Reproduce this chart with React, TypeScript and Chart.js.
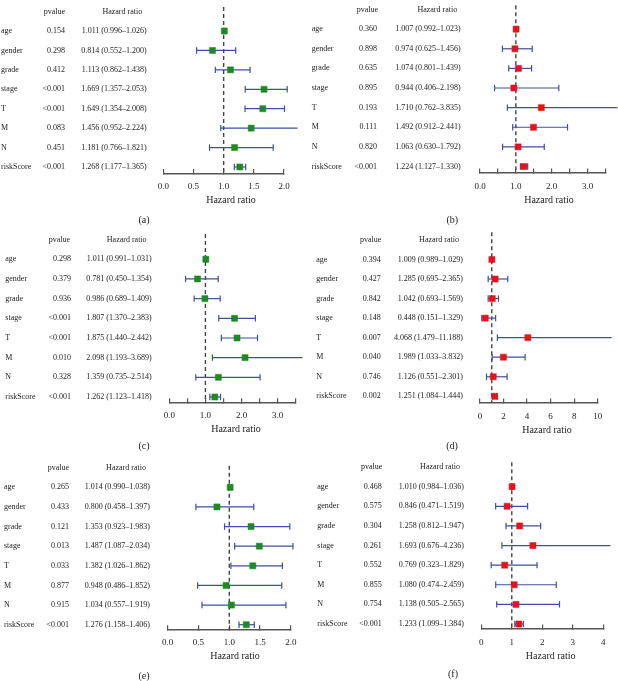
import React, { useEffect, useRef } from 'react';
import { Chart, registerables } from 'chart.js';

Chart.register(...registerables);

// ---------------- data ----------------
const variables = ['age', 'gender', 'grade', 'stage', 'T', 'M', 'N', 'riskScore'];

const pA = ['0.154', '0.298', '0.412', '<0.001', '<0.001', '0.083', '0.451', '<0.001'];
const hrA = [1.011, 0.814, 1.113, 1.669, 1.649, 1.456, 1.181, 1.268];
const loA = [0.996, 0.552, 0.862, 1.357, 1.354, 0.952, 0.766, 1.177];
const hiA = [1.026, 1.2, 1.438, 2.053, 2.008, 2.224, 1.821, 1.365];

const pB = ['0.360', '0.898', '0.635', '0.895', '0.193', '0.111', '0.820', '<0.001'];
const hrB = [1.007, 0.974, 1.074, 0.944, 1.71, 1.492, 1.063, 1.224];
const loB = [0.992, 0.625, 0.801, 0.406, 0.762, 0.912, 0.63, 1.127];
const hiB = [1.023, 1.456, 1.439, 2.198, 3.835, 2.441, 1.792, 1.33];

const pC = ['0.298', '0.379', '0.936', '<0.001', '<0.001', '0.010', '0.328', '<0.001'];
const hrC = [1.011, 0.781, 0.986, 1.807, 1.875, 2.098, 1.359, 1.262];
const loC = [0.991, 0.45, 0.689, 1.37, 1.44, 1.193, 0.735, 1.123];
const hiC = [1.031, 1.354, 1.409, 2.383, 2.442, 3.689, 2.514, 1.418];

const pD = ['0.394', '0.427', '0.842', '0.148', '0.007', '0.040', '0.746', '0.002'];
const hrD = [1.009, 1.285, 1.042, 0.448, 4.068, 1.989, 1.126, 1.251];
const loD = [0.989, 0.695, 0.693, 0.151, 1.479, 1.033, 0.551, 1.084];
const hiD = [1.029, 2.365, 1.569, 1.329, 11.188, 3.832, 2.301, 1.444];

const pE = ['0.265', '0.433', '0.121', '0.013', '0.033', '0.877', '0.915', '<0.001'];
const hrE = [1.014, 0.8, 1.353, 1.487, 1.382, 0.948, 1.034, 1.276];
const loE = [0.99, 0.458, 0.923, 1.087, 1.026, 0.486, 0.557, 1.158];
const hiE = [1.038, 1.397, 1.983, 2.034, 1.862, 1.852, 1.919, 1.406];

const pF = ['0.468', '0.575', '0.304', '0.261', '0.552', '0.855', '0.754', '<0.001'];
const hrF = [1.01, 0.846, 1.258, 1.693, 0.769, 1.08, 1.138, 1.233];
const loF = [0.984, 0.471, 0.812, 0.676, 0.323, 0.474, 0.505, 1.099];
const hiF = [1.036, 1.519, 1.947, 4.236, 1.829, 2.459, 2.565, 1.384];

const ticksHalf2 = [0, 0.5, 1, 1.5, 2];
const tickLabelsHalf2 = ['0.0', '0.5', '1.0', '1.5', '2.0'];
const ticksHalf35 = [0, 0.5, 1, 1.5, 2, 2.5, 3, 3.5];
const tickLabelsHalf35 = ['0.0', '', '1.0', '', '2.0', '', '3.0', ''];
const ticksTen = [0, 2, 4, 6, 8, 10];
const tickLabelsTen = ['0', '2', '4', '6', '8', '10'];
const ticksFour = [0, 1, 2, 3, 4];
const tickLabelsFour = ['0', '1', '2', '3', '4'];

// ---------------- styles / layout ----------------
const SERIF = '"Liberation Serif", "Times New Roman", serif';
const GREEN = '#1f8a22';
const RED = '#e3141b';
const BLUE = '#3d4f9f';
const AXIS = '#555555';
const DASH = '#444444';
const TEXT = '#222222';
const W = 309;
const H = 227;

type Panel = {
  id: string; left: number; top: number; color: string;
  p: string[]; hr: number[]; lo: number[]; hi: number[];
  ticks: number[]; tickLabels: string[];
  x0: number; x1: number; T: number; B: number; r0: number; r7: number;
  labelX: number; pRight: number; hrRight: number; pHead: number; hrHead: number;
  titleX: number; letterX: number; letterY: number;
};

const PANELS: Panel[] = [
  { id: 'a', left: 0, top: 0, color: GREEN, p: pA, hr: hrA, lo: loA, hi: hiA,
    ticks: ticksHalf2, tickLabels: tickLabelsHalf2,
    x0: 163.3, x1: 284, T: 7, B: 173.5, r0: 31, r7: 167,
    labelX: 1, pRight: 65, hrRight: 146.7, pHead: 54.3, hrHead: 122.3,
    titleX: 231, letterX: 144, letterY: 220 },
  { id: 'b', left: 309, top: 0, color: RED, p: pB, hr: hrB, lo: loB, hi: hiB,
    ticks: ticksHalf35, tickLabels: tickLabelsHalf35,
    x0: 171, x1: 296.7, T: 0, B: 173, r0: 24.7, r7: 166.3,
    labelX: 2.7, pRight: 68, hrRight: 151.7, pHead: 58.3, hrHead: 128.3,
    titleX: 240, letterX: 143.3, letterY: 220 },
  { id: 'c', left: 0, top: 227, color: GREEN, p: pC, hr: hrC, lo: loC, hi: hiC,
    ticks: ticksHalf35, tickLabels: tickLabelsHalf35,
    x0: 169.3, x1: 295.7, T: 7, B: 175.7, r0: 32.3, r7: 170,
    labelX: 5.3, pRight: 71, hrRight: 151.7, pHead: 59.3, hrHead: 126.7,
    titleX: 236, letterX: 144, letterY: 219 },
  { id: 'd', left: 309, top: 227, color: RED, p: pD, hr: hrD, lo: loD, hi: hiD,
    ticks: ticksTen, tickLabels: tickLabelsTen,
    x0: 171, x1: 288.7, T: 5, B: 176, r0: 32.3, r7: 169.3,
    labelX: 7.3, pRight: 71.7, hrRight: 154, pHead: 61.7, hrHead: 130,
    titleX: 238, letterX: 143, letterY: 219 },
  { id: 'e', left: 0, top: 454, color: GREEN, p: pE, hr: hrE, lo: loE, hi: hiE,
    ticks: ticksHalf2, tickLabels: tickLabelsHalf2,
    x0: 167.7, x1: 300, T: 11.7, B: 175.7, r0: 33.3, r7: 170.7,
    labelX: 4, pRight: 69, hrRight: 150, pHead: 58.3, hrHead: 126,
    titleX: 235, letterX: 144, letterY: 222.7 },
  { id: 'f', left: 309, top: 454, color: RED, p: pF, hr: hrF, lo: loF, hi: hiF,
    ticks: ticksFour, tickLabels: tickLabelsFour,
    x0: 172.3, x1: 298.3, T: 8.3, B: 175, r0: 32.7, r7: 170,
    labelX: 8.3, pRight: 72.7, hrRight: 155, pHead: 62.7, hrHead: 131,
    titleX: 241.7, letterX: 144, letterY: 220 },
];

const f3 = (v: number) => v.toFixed(3);

function makeTextPlugin(cfg: Panel) {
  return {
    id: 'forestText' + cfg.id,
    afterDraw(chart: any) {
      const ctx = chart.ctx;
      const y = chart.scales.y;
      ctx.save();
      ctx.fillStyle = TEXT;
      ctx.textBaseline = 'middle';
      ctx.font = `8px ${SERIF}`;
      const hy = y.getPixelForValue(-1);
      ctx.textAlign = 'center';
      ctx.fillText('pvalue', cfg.pHead, hy);
      ctx.fillText('Hazard ratio', cfg.hrHead, hy);
      variables.forEach((name, i) => {
        const py = y.getPixelForValue(i);
        ctx.textAlign = 'left';
        ctx.fillText(name, cfg.labelX, py);
        ctx.textAlign = 'right';
        ctx.fillText(cfg.p[i], cfg.pRight, py);
        ctx.fillText(`${f3(cfg.hr[i])} (${f3(cfg.lo[i])}\u2013${f3(cfg.hi[i])})`, cfg.hrRight, py);
      });
      ctx.font = `10px ${SERIF}`;
      ctx.textAlign = 'center';
      ctx.fillText('Hazard ratio', cfg.titleX, chart.chartArea.bottom + 27);
      ctx.fillText(`(${cfg.id})`, cfg.letterX, cfg.letterY);
      ctx.restore();
    },
  };
}

function ForestPanel({ cfg }: { cfg: Panel }) {
  const ref = useRef<HTMLCanvasElement | null>(null);
  useEffect(() => {
    if (!ref.current) return;
    const s = (cfg.r7 - cfg.r0) / 7;
    const yMin = -(cfg.r0 - cfg.T) / s;
    const yMax = 7 + (cfg.B - cfg.r7) / s;
    const xMax = cfg.ticks[cfg.ticks.length - 1];
    const AXIS_H = 20;

    const ciLines = cfg.hr.map((_, i) => ({
      data: [{ x: cfg.lo[i], y: i }, { x: cfg.hi[i], y: i }],
      showLine: true,
      borderColor: BLUE,
      borderWidth: 1.2,
      pointRadius: 0,
      clip: false,
      order: 2,
    }));

    const chart = new Chart(ref.current, {
      type: 'scatter',
      data: {
        datasets: [
          {
            data: cfg.hr.map((v, i) => ({ x: v, y: i })),
            pointStyle: 'rect',
            pointRadius: 4.3,
            backgroundColor: cfg.color,
            borderColor: cfg.color,
            borderWidth: 0.5,
            clip: false,
            order: 0,
          } as any,
          {
            data: [
              ...cfg.lo.map((v, i) => ({ x: v, y: i })),
              ...cfg.hi.map((v, i) => ({ x: v, y: i })),
            ],
            pointStyle: 'line',
            rotation: 90,
            pointRadius: 3.2,
            borderColor: BLUE,
            borderWidth: 1.2,
            clip: false,
            order: 1,
          } as any,
          ...(ciLines as any[]),
          {
            data: [{ x: 1, y: yMin }, { x: 1, y: yMax }],
            showLine: true,
            borderColor: DASH,
            borderWidth: 1.4,
            borderDash: [4, 3],
            pointRadius: 0,
            clip: false,
            order: 3,
          } as any,
        ],
      },
      options: {
        responsive: false,
        animation: false,
        events: [],
        layout: {
          padding: { left: cfg.x0, right: W - cfg.x1, top: cfg.T, bottom: H - cfg.B - AXIS_H },
        },
        plugins: { legend: { display: false }, tooltip: { enabled: false }, title: { display: false } },
        scales: {
          x: {
            type: 'linear',
            min: 0,
            max: xMax,
            afterBuildTicks: (sc: any) => {
              sc.ticks = cfg.ticks.map((v) => ({ value: v }));
            },
            afterFit: (sc: any) => {
              sc.height = AXIS_H;
            },
            border: { display: true, color: AXIS, width: 1.5 },
            grid: { display: true, drawOnChartArea: false, drawTicks: true, tickLength: -4.5, color: AXIS, lineWidth: 1.2 },
            ticks: {
              autoSkip: false,
              maxRotation: 0,
              padding: 12.5,
              color: TEXT,
              font: { family: SERIF, size: 9 },
              callback: (v: any) => {
                const idx = cfg.ticks.findIndex((t) => Math.abs(t - Number(v)) < 1e-9);
                return idx >= 0 ? cfg.tickLabels[idx] : '';
              },
            },
          },
          y: { type: 'linear', display: false, reverse: true, min: yMin, max: yMax },
        },
      } as any,
      plugins: [makeTextPlugin(cfg)],
    });
    return () => chart.destroy();
  }, [cfg]);

  return (
    <canvas
      ref={ref}
      width={W}
      height={H}
      style={{ position: 'absolute', left: cfg.left, top: cfg.top, width: W, height: H, display: 'block' }}
    />
  );
}

export default function App() {
  return (
    <div style={{ position: 'absolute', left: 0, top: 0, width: 618, height: 681, background: '#ffffff' }}>
      {PANELS.map((cfg) => (
        <ForestPanel key={cfg.id} cfg={cfg} />
      ))}
    </div>
  );
}
